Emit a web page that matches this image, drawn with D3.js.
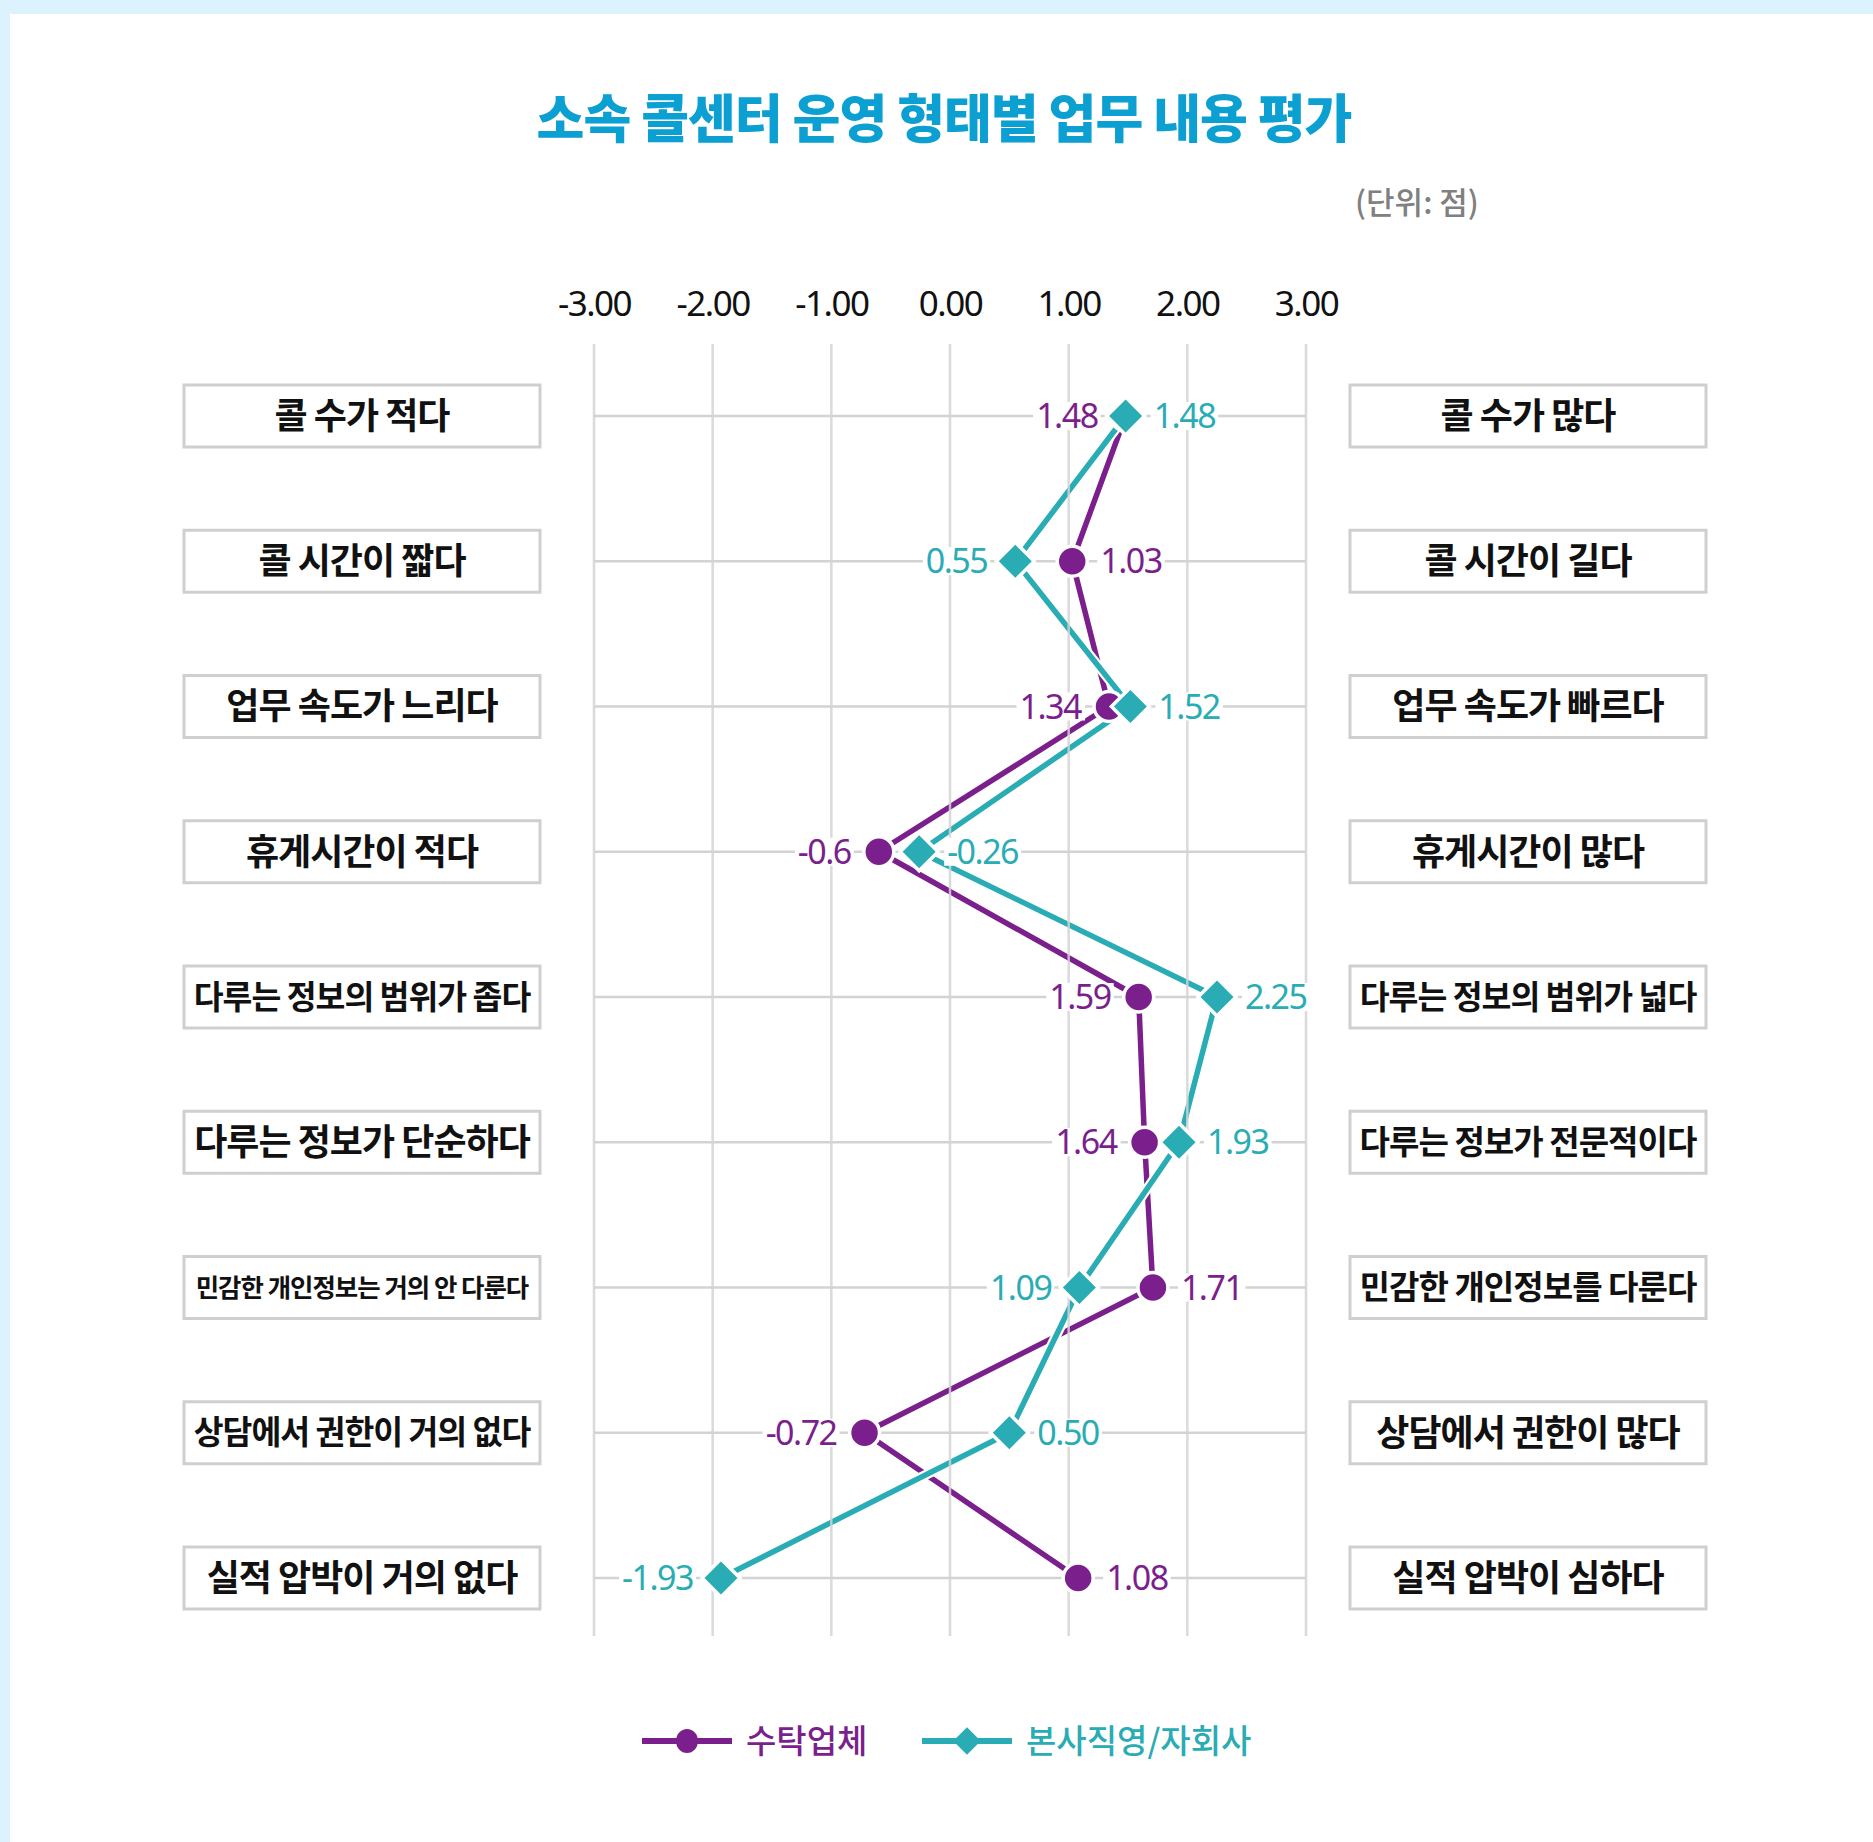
<!DOCTYPE html>
<html>
<head>
<meta charset="utf-8">
<script src="https://cdn.jsdelivr.net/npm/d3@7"></script>
<style>
  html, body { margin: 0; padding: 0; background: #dcf2fd; }
  text { font-family: "Noto Sans CJK KR", "Noto Sans", sans-serif; }
</style>
</head>
<body>
<div id="chart"></div>
<script>
// 항목 (왼쪽 / 오른쪽 양극 라벨)
var leftLabels = ["콜 수가 적다", "콜 시간이 짧다", "업무 속도가 느리다", "휴게시간이 적다",
  "다루는 정보의 범위가 좁다", "다루는 정보가 단순하다", "민감한 개인정보는 거의 안 다룬다",
  "상담에서 권한이 거의 없다", "실적 압박이 거의 없다"];
var rightLabels = ["콜 수가 많다", "콜 시간이 길다", "업무 속도가 빠르다", "휴게시간이 많다",
  "다루는 정보의 범위가 넓다", "다루는 정보가 전문적이다", "민감한 개인정보를 다룬다",
  "상담에서 권한이 많다", "실적 압박이 심하다"];

var seriesNames = ["수탁업체", "본사직영/자회사"];
var outsourced = [1.48, 1.03, 1.34, -0.6, 1.59, 1.64, 1.71, -0.72, 1.08];
var direct = [1.48, 0.55, 1.52, -0.26, 2.25, 1.93, 1.09, 0.50, -1.93];
var outsourcedText = ["1.48", "1.03", "1.34", "-0.6", "1.59", "1.64", "1.71", "-0.72", "1.08"];
var directText = ["1.48", "0.55", "1.52", "-0.26", "2.25", "1.93", "1.09", "0.50", "-1.93"];
var tickValues = [-3, -2, -1, 0, 1, 2, 3];

var W = 1873, H = 1842;
var purple = "#7b1f8c", teal = "#2aacb5", grid = "#d3d3d3";

var svg = d3.select("#chart").append("svg")
    .attr("width", W)
    .attr("height", H);

svg.append("rect")
    .attr("x", 10).attr("y", 14)
    .attr("width", W).attr("height", H)
    .attr("fill", "#fff");

svg.append("text")
    .attr("x", 944).attr("y", 138)
    .attr("text-anchor", "middle")
    .attr("fill", "#0b9fd2")
    .style("font-size", "52px")
    .style("font-weight", 900)
    .style("letter-spacing", "-1px")
    .text("소속 콜센터 운영 형태별 업무 내용 평가");

svg.append("text")
    .attr("x", 1417).attr("y", 214)
    .attr("text-anchor", "middle")
    .attr("fill", "#808080")
    .style("font-size", "31px")
    .style("font-weight", 500)
    .text("(단위: 점)");

var x = d3.scaleLinear().domain([-3, 3]).range([594, 1306]);
var y = d3.scalePoint().domain(d3.range(leftLabels.length)).range([416, 1578]);

// 상단 눈금
var fmt = d3.format(".2f");
var axis = svg.append("g")
    .attr("transform", "translate(0,316)")
    .call(d3.axisTop(x).tickValues(tickValues)
      .tickFormat(function(d) { return fmt(d).replace("\u2212", "-"); })
      .tickSize(0).tickPadding(0));
axis.select(".domain").remove();
axis.selectAll("text")
    .attr("fill", "#111")
    .style("font-family", "'Noto Sans', sans-serif")
    .style("font-size", "35px")
    .style("letter-spacing", "-1.5px")
    .attr("dy", 0);

// 그리드
var gridG = svg.append("g");
gridG.selectAll(".h").data(y.domain()).enter().append("line")
    .attr("x1", x(-3)).attr("x2", x(3))
    .attr("y1", function(d) { return y(d); }).attr("y2", function(d) { return y(d); })
    .attr("stroke", grid).attr("stroke-width", 2.5);

// 양쪽 라벨 박스
function drawBoxes(labels, bx) {
  var g = svg.append("g");
  var item = g.selectAll("g").data(labels).enter().append("g")
      .attr("transform", function(d, i) { return "translate(" + bx + "," + y(i) + ")"; });
  item.append("rect")
      .attr("x", 0).attr("y", -31)
      .attr("width", 356).attr("height", 62)
      .attr("fill", "#fff")
      .attr("stroke", "#cfcfcf").attr("stroke-width", 3);
  item.append("text")
      .attr("x", 178).attr("y", 0)
      .attr("dy", "0.36em")
      .attr("text-anchor", "middle")
      .attr("fill", "#111")
      .style("font-weight", 700)
      .style("font-size", "36px")
      .style("letter-spacing", "-1px")
      .text(function(d) { return d; })
      .each(function() {
        var len = this.getComputedTextLength();
        if (len > 338) d3.select(this).style("font-size", (36 * 338 / len) + "px");
      });
}
drawBoxes(leftLabels, 184);
drawBoxes(rightLabels, 1350);

var line = d3.line()
    .x(function(d) { return x(d); })
    .y(function(d, i) { return y(i); });

var series = [
  { name: seriesNames[0], values: outsourced, text: outsourcedText, color: purple, shape: "circle" },
  { name: seriesNames[1], values: direct, text: directText, color: teal, shape: "diamond" }
];

var lineG = svg.append("g");
series.forEach(function(s) {
  lineG.append("path").datum(s.values)
      .attr("d", line).attr("fill", "none")
      .attr("stroke", "#fff").attr("stroke-width", 10).attr("stroke-linejoin", "round");
  lineG.append("path").datum(s.values)
      .attr("d", line).attr("fill", "none")
      .attr("stroke", s.color).attr("stroke-width", 5.5).attr("stroke-linejoin", "round");
});

// 세로 그리드는 선 위에 옅게
gridG.raise();
gridG.selectAll(".v").data(tickValues).enter().append("line")
    .attr("x1", function(d) { return x(d); }).attr("x2", function(d) { return x(d); })
    .attr("y1", 344).attr("y2", 1636)
    .attr("stroke", grid).attr("stroke-width", 2.5).attr("stroke-opacity", 0.85);

var diamond = d3.symbol().type(d3.symbolSquare).size(720);

function marker(sel, s) {
  if (s.shape === "circle") {
    sel.append("circle").attr("r", 15);
  } else {
    sel.append("path").attr("d", diamond).attr("transform", "rotate(45)");
  }
  sel.selectAll("circle, path")
      .attr("fill", s.color).attr("stroke", "#fff").attr("stroke-width", 3.5);
}

var markG = svg.append("g");
series.forEach(function(s) {
  var m = markG.selectAll(null).data(s.values).enter().append("g")
      .attr("transform", function(d, i) { return "translate(" + x(d) + "," + y(i) + ")"; });
  marker(m, s);
});

// 값 라벨: 작은 값은 왼쪽, 큰 값은 오른쪽
var labelG = svg.append("g");
series.forEach(function(s, si) {
  var other = series[1 - si].values;
  s.values.forEach(function(v, i) {
    var left = si === 0 ? v <= other[i] : v < other[i];
    var t = labelG.append("text")
        .attr("x", left ? x(v) - 28 : x(v) + 28)
        .attr("y", y(i))
        .attr("dy", "0.36em")
        .attr("text-anchor", left ? "end" : "start")
        .attr("fill", s.color)
        .style("font-family", "'Noto Sans', sans-serif")
        .style("font-size", "34px")
        .style("letter-spacing", "-1.5px")
        .text(s.text[i]);
    var b = t.node().getBBox();
    labelG.insert("rect", function() { return t.node(); })
        .attr("x", b.x - 3).attr("y", y(i) - 14)
        .attr("width", b.width + 6).attr("height", 28)
        .attr("fill", "#fff");
  });
});

// 범례
var legend = svg.append("g").attr("transform", "translate(0,1741)");
var legendX = [642, 922];
series.forEach(function(s, i) {
  var g = legend.append("g").attr("transform", "translate(" + legendX[i] + ",0)");
  g.append("line").attr("x1", 0).attr("x2", 90)
      .attr("stroke", s.color).attr("stroke-width", 6);
  var m = g.append("g").attr("transform", "translate(45,0)");
  if (s.shape === "circle") {
    m.append("ellipse").attr("rx", 11).attr("ry", 12).attr("fill", s.color);
  } else {
    m.append("path").attr("d", d3.symbol().type(d3.symbolSquare).size(380)).attr("transform", "rotate(45)").attr("fill", s.color);
  }
  g.append("text")
      .attr("x", 104).attr("y", 0).attr("dy", "0.36em")
      .attr("fill", s.color)
      .style("font-size", "33px")
      .style("font-weight", 500)
      .text(s.name);
});
</script>
</body>
</html>
